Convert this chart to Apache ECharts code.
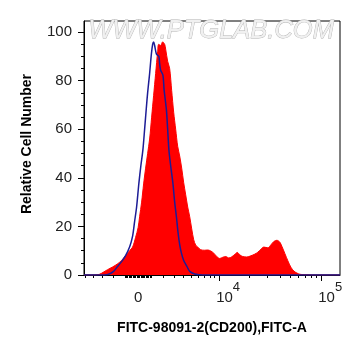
<!DOCTYPE html>
<html><head><meta charset="utf-8">
<script src="https://cdn.jsdelivr.net/npm/echarts@6/dist/echarts.min.js"></script>
<style>html,body{margin:0;padding:0;background:#fff}#c{width:361px;height:356px}</style>
</head><body><div id="c"></div>
<script>
// Histogram bins on the display (channel) scale, 0..1022
const redChannel = [0,42,62,78,94,114,134,150,166,174,182,194,206,216,222,230,238,246,254,262,270,278,286,294,298,306,314,322,326,334,342,350,358,366,374,382,390,398,406,414,422,430,438,446,454,466,482,494,506,518,530,542,554,566,578,590,602,612,622,634,650,666,682,694,706,718,734,746,758,770,782,790,802,814,826,838,850,862,882,922,1022];
const redCount = [0,0,0.3,1.2,2.2,3.3,4.6,6,8,9,10,11.5,15.5,19.5,24,30,37.5,44,50,56,65,74,83,92,95,94.5,96,95,93,88,85,76,67,60,53,49,44,38,33,28,24,19,14.5,12.3,11.5,10.4,10.2,10.3,9.9,9,7.6,6.8,7.3,7.6,7,7.5,8.5,9.3,8.3,7.6,7.4,7.9,8.6,9.4,10.6,11.5,11.2,12.4,13.8,14.3,13.5,11.8,8.8,5.8,3.2,1.6,0.8,0.3,0.1,0,0];
const blueChannel = [0,82,98,118,134,150,166,182,194,202,210,219,227,235,242,249,254,258,262,269,274,278,282,289,294,299,302,306,315,320,329,334,339,346,355,362,369,376,382,389,398,411,422,442,462,482,1022];
const blueCount = [0,0,0.3,1.5,3.5,5.5,8,11.5,16,22,28,37.7,45,51.4,60,69,75,79,83,91,95,96,94.5,91,90.5,90,87,84.3,82.3,76,68,60,51.4,45,37.7,30,23.9,17,12.5,9,6,3.5,1.5,0.4,0.1,0,0];

const yTickValues = [0,20,40,60,80,100];
const yMinorValues = [5,10,15,25,30,35,45,50,55,65,70,75,85,90,95];
const xMajorValues = [10000,100000];
const xZeroLabel = [0];
const xMinorValues = [-5000,-4000,-3000,-2000,-1000,-900,-800,-700,-600,-500,-400,-300,-200,-100,0,100,200,300,400,500,600,700,800,900,1000,2000,3000,4000,5000,6000,7000,8000,9000,20000,30000,40000,50000,60000,70000,80000,90000];
const xExponents = {10000:'4',100000:'5'};
const xTitle = 'FITC-98091-2(CD200),FITC-A';
const yTitle = 'Relative Cell Number';
const watermark = 'WWW.PTGLAB.COM';

// biexponential-like display transform: channel = Z + K*asinh(v/C)
const CH_ZERO = 216, CH_K = 179.2, CH_C = 3380, CH_MAX = 1022;
function toChannel(v){ return CH_ZERO + CH_K*Math.asinh(v/CH_C); }
function nearest(ch, list){ let b=list[0]; for(const v of list){ if(Math.abs(toChannel(v)-ch)<Math.abs(toChannel(b)-ch)) b=v; } return b; }

const FONT = 'Liberation Sans, Arial, sans-serif';
const chart = echarts.init(document.getElementById('c'), null, {renderer:'canvas'});
const baseX = {type:'value', min:0, max:CH_MAX, position:'bottom', splitLine:{show:false}, gridIndex:0};
const baseY = {type:'value', min:0, max:104.6, position:'left', splitLine:{show:false}, gridIndex:0};
chart.setOption({
  animation:false,
  grid:{left:84, right:21, top:21, bottom:81, show:true, borderColor:'#000', borderWidth:1, backgroundColor:'#fff', outerBoundsMode:'none'},
  graphic:[{type:'text', left:88, top:18, z:1, style:{text:watermark, font:'italic 25.5px '+FONT, fill:'#f0f0f0', stroke:'#b0b0b0', lineWidth:0.8}}],
  xAxis:[
    Object.assign({}, baseX, {
      axisLine:{show:true, lineStyle:{color:'#000', width:1}},
      axisTick:{show:true, length:6, customValues:xMajorValues.map(toChannel), lineStyle:{color:'#000'}},
      axisLabel:{show:true, customValues:xZeroLabel.map(toChannel), formatter:()=> '0', margin:15, fontSize:15, color:'#222', fontFamily:FONT},
      name:xTitle, nameLocation:'middle', nameGap:46,
      nameTextStyle:{fontSize:14, fontWeight:'bold', color:'#000', fontFamily:FONT}
    }),
    Object.assign({}, baseX, {
      axisLine:{show:false},
      axisTick:{show:true, length:3, customValues:xMinorValues.map(toChannel), lineStyle:{color:'#000'}},
      axisLabel:{show:true, customValues:xMajorValues.map(toChannel), align:'left', margin:6, color:'#222', fontFamily:FONT,
        formatter:(val)=> '{b|10}{s|'+xExponents[nearest(val, xMajorValues)]+'}',
        rich:{b:{fontSize:15, lineHeight:24, verticalAlign:'bottom', color:'#222', fontFamily:FONT, padding:[0,0,0,-3]},
              s:{fontSize:13, lineHeight:24, verticalAlign:'top', color:'#222', fontFamily:FONT}}}
    })
  ],
  yAxis:[
    Object.assign({}, baseY, {
      axisLine:{show:true, lineStyle:{color:'#000', width:1}},
      axisTick:{show:true, length:6, customValues:yTickValues, lineStyle:{color:'#000'}},
      axisLabel:{show:true, customValues:yTickValues, margin:12, fontSize:15, color:'#222', fontFamily:FONT},
      name:yTitle, nameLocation:'middle', nameGap:50,
      nameTextStyle:{fontSize:14, fontWeight:'bold', color:'#000', fontFamily:FONT, padding:[0,0,0,8]}
    }),
    Object.assign({}, baseY, {
      axisLine:{show:false},
      axisTick:{show:true, length:3, customValues:yMinorValues, lineStyle:{color:'#000'}},
      axisLabel:{show:false}
    })
  ],
  series:[
    {type:'line', name:'sample', xAxisIndex:0, yAxisIndex:0, data:redChannel.map((c,i)=>[c, redCount[i]]),
     symbol:'none', smooth:0.3, lineStyle:{color:'#ff0000', width:1}, areaStyle:{color:'#ff0000', opacity:1}, z:2},
    {type:'line', name:'control', xAxisIndex:0, yAxisIndex:0, data:blueChannel.map((c,i)=>[c, blueCount[i]]),
     symbol:'none', smooth:0.3, lineStyle:{color:'#1c1c96', width:1.5}, z:3}
  ]
});
</script></body></html>
